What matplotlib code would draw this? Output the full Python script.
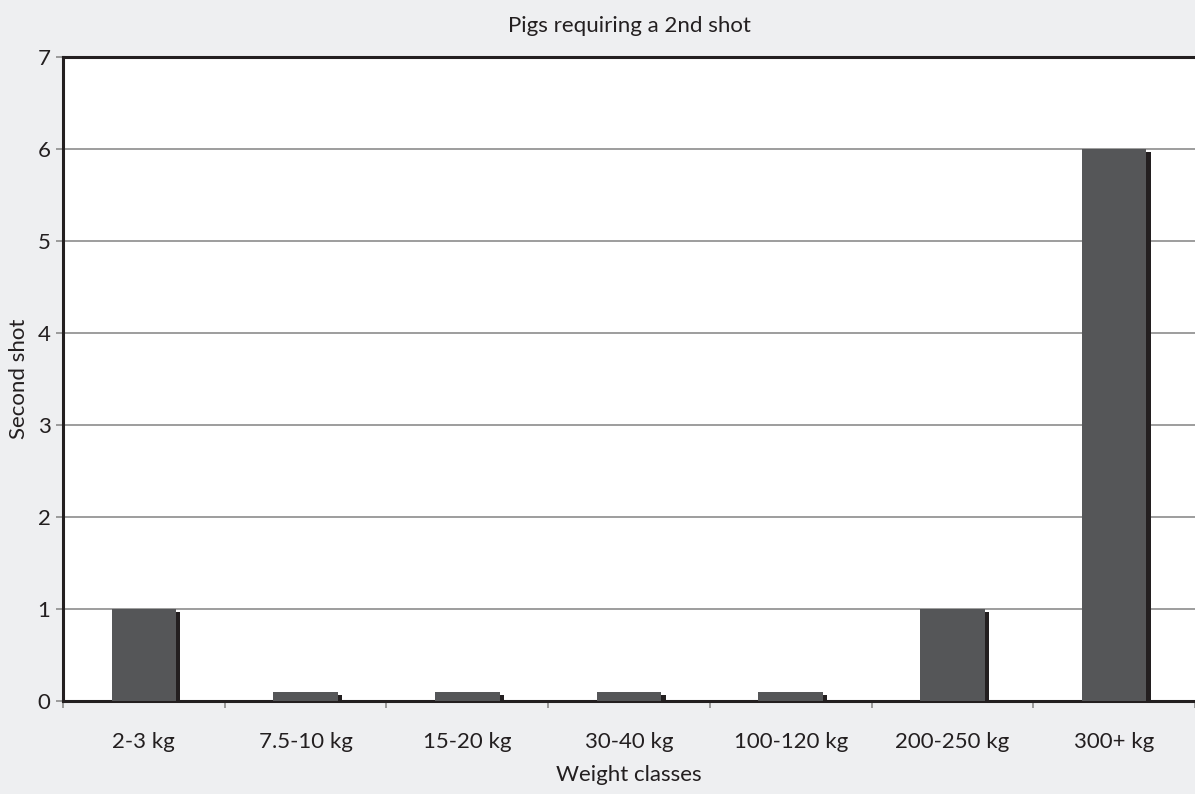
import matplotlib.pyplot as plt
import matplotlib.patheffects as pe
import numpy as np

# Pigs needing a second shot, by weight class
weight_classes = ['2-3 kg', '7.5-10 kg', '15-20 kg', '30-40 kg', '100-120 kg', '200-250 kg', '300+ kg']
second_shot = [1, 0.1, 0.1, 0.1, 0.1, 1, 6]

plt.rcParams['font.family'] = ['Lato', 'DejaVu Sans']

bg = '#eeeff1'
bar_color = '#555658'
shadow_color = '#231f20'
grid_color = '#8c8c8c'
text_color = '#231f20'
fs = 16

fig = plt.figure(figsize=(11.95, 7.94), dpi=100, facecolor=bg)
ax = fig.add_axes([63 / 1195, 1 - 701 / 794, 1132 / 1195, (701 - 57) / 794])
ax.set_facecolor('white')

x = np.arange(len(weight_classes))
bars = ax.bar(x, second_shot, width=0.40, color=bar_color, zorder=3)
for b in bars:
    b.set_path_effects([pe.SimplePatchShadow(offset=(3, -2), shadow_rgbFace=shadow_color, alpha=1.0),
                        pe.Normal()])

ax.set_xlim(-0.5, len(weight_classes) - 0.5)
ax.set_ylim(0, 7)
ax.set_yticks(range(0, 8))
ax.yaxis.grid(True, color=grid_color, linewidth=1.2, zorder=0)
ax.set_axisbelow(True)

# category ticks sit between the groups, labels in the middle
ax.set_xticks(np.arange(-0.5, len(weight_classes), 1.0))
ax.set_xticklabels([])
ax.set_xticks(x, minor=True)
ax.set_xticklabels(weight_classes, minor=True)
ax.tick_params(axis='x', which='minor', length=0, pad=22, labelsize=fs, labelcolor=text_color)
ax.tick_params(axis='x', which='major', length=5, color=grid_color, width=1.2)
ax.tick_params(axis='y', length=5, color=grid_color, width=1.2, labelsize=fs, labelcolor=text_color, pad=4)

for side in ['left', 'bottom', 'top']:
    ax.spines[side].set_color(text_color)
    ax.spines[side].set_linewidth(2.2)
ax.spines['right'].set_visible(False)

ax.set_title('Pigs requiring a 2nd shot', fontsize=fs, color=text_color, pad=18)
ax.set_xlabel('Weight classes', fontsize=fs, color=text_color, labelpad=10)
ax.set_ylabel('Second shot', fontsize=fs, color=text_color, labelpad=6)

fig.savefig('out.png', dpi=100, facecolor=bg)
